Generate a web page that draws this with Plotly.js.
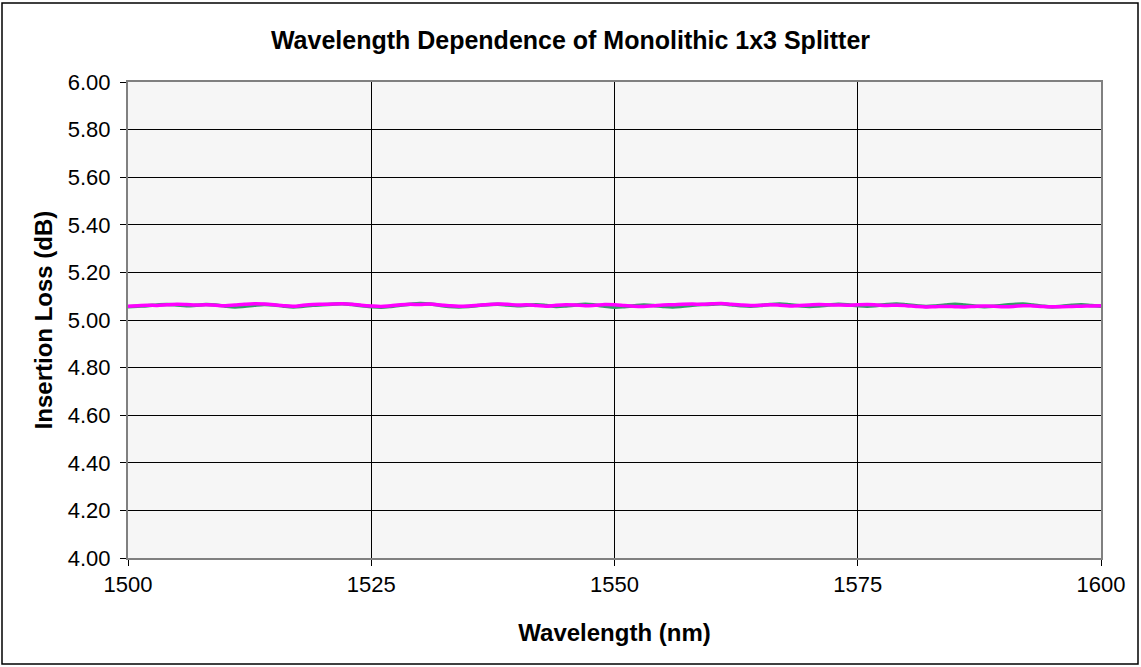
<!DOCTYPE html>
<html>
<head>
<meta charset="utf-8">
<script src="https://cdn.plot.ly/plotly-3.0.1.min.js"></script>
<style>
html,body{margin:0;padding:0;background:#fff;}
#chart{width:1141px;height:667px;}
</style>
</head>
<body>
<div id="chart"></div>
<script>
var wavelengths = [];
for (var w = 1500; w <= 1600; w++) wavelengths.push(w);

var seriesGreen = [
5.056, 5.058, 5.060, 5.063, 5.065, 5.063, 5.060, 5.062, 5.065, 5.063,
5.058, 5.055, 5.058, 5.062, 5.065, 5.063, 5.058, 5.055, 5.058, 5.062,
5.064, 5.066, 5.068, 5.065, 5.060, 5.056, 5.054, 5.057, 5.062, 5.066,
5.069, 5.067, 5.062, 5.057, 5.055, 5.057, 5.061, 5.064, 5.066, 5.063,
5.060, 5.062, 5.064, 5.061, 5.057, 5.059, 5.063, 5.066, 5.063, 5.058,
5.054, 5.056, 5.060, 5.063, 5.061, 5.057, 5.055, 5.058, 5.062, 5.065,
5.066, 5.068, 5.064, 5.060, 5.058, 5.061, 5.065, 5.067, 5.064, 5.060,
5.057, 5.059, 5.063, 5.066, 5.064, 5.060, 5.058, 5.061, 5.065, 5.067,
5.064, 5.060, 5.057, 5.059, 5.063, 5.066, 5.063, 5.059, 5.056, 5.058,
5.062, 5.065, 5.067, 5.063, 5.058, 5.055, 5.058, 5.062, 5.064, 5.061, 5.058
];

var seriesMagenta = [
5.058, 5.060, 5.062, 5.061, 5.064, 5.066, 5.065, 5.063, 5.064, 5.062,
5.060, 5.063, 5.066, 5.068, 5.067, 5.064, 5.060, 5.058, 5.062, 5.065,
5.066, 5.067, 5.068, 5.066, 5.062, 5.059, 5.057, 5.060, 5.064, 5.066,
5.065, 5.067, 5.063, 5.060, 5.058, 5.059, 5.062, 5.065, 5.067, 5.066,
5.063, 5.064, 5.061, 5.058, 5.062, 5.064, 5.063, 5.060, 5.062, 5.065,
5.064, 5.061, 5.058, 5.057, 5.060, 5.063, 5.064, 5.066, 5.067, 5.066,
5.068, 5.069, 5.066, 5.063, 5.061, 5.062, 5.064, 5.062, 5.059, 5.061,
5.063, 5.065, 5.064, 5.063, 5.062, 5.064, 5.065, 5.063, 5.061, 5.062,
5.060, 5.057, 5.055, 5.056, 5.057, 5.056, 5.055, 5.057, 5.059, 5.058,
5.056, 5.057, 5.060, 5.059, 5.057, 5.056, 5.056, 5.057, 5.058, 5.059, 5.060
];

var titleText = "Wavelength Dependence of Monolithic 1x3 Splitter";
var xTitle = "Wavelength (nm)";
var yTitle = "Insertion Loss (dB)";

var font = "Liberation Sans, Arial, sans-serif";

var traces = [
  {x: wavelengths, y: seriesGreen, type: "scatter", mode: "lines",
   line: {color: "#339966", width: 3.5, shape: "spline"}, hoverinfo: "skip"},
  {x: wavelengths, y: seriesMagenta, type: "scatter", mode: "lines",
   line: {color: "#ff00ff", width: 3.5, shape: "spline"}, hoverinfo: "skip"}
];

var pw = 973, ph = 476, ml = 128, mt = 82;
var layout = {
  width: 1141, height: 667,
  margin: {l: ml, r: 1141 - ml - pw, t: mt, b: 667 - mt - ph},
  paper_bgcolor: "#ffffff",
  plot_bgcolor: "#f6f6f6",
  showlegend: false,
  font: {family: font, color: "#000", size: 22},
  title: {text: "<b>" + titleText + "</b>", x: 0.5, xref: "container", xanchor: "center",
          y: 1 - 40 / 667, yanchor: "middle",
          font: {family: font, size: 25, color: "#000"}},
  xaxis: {
    range: [1500, 1600], tickmode: "linear", tick0: 1500, dtick: 25,
    showgrid: true, gridcolor: "#000", gridwidth: 1,
    showline: true, linecolor: "#808080", linewidth: 2, mirror: true,
    ticks: "outside", ticklen: 6, tickcolor: "#000",
    zeroline: false,
    tickfont: {family: font, size: 22},
    title: {text: "<b>" + xTitle + "</b>", font: {family: font, size: 24}, standoff: 28}
  },
  yaxis: {
    range: [4, 6], tickmode: "linear", tick0: 4, dtick: 0.2, tickformat: ".2f",
    showgrid: true, gridcolor: "#000", gridwidth: 1,
    showline: true, linecolor: "#808080", linewidth: 2, mirror: true,
    ticks: "outside", ticklen: 6, tickcolor: "#000",
    ticklabelstandoff: 5,
    zeroline: false,
    tickfont: {family: font, size: 22},
    title: {text: "<b>" + yTitle + "</b>", font: {family: font, size: 24}, standoff: 8}
  },
  shapes: [{
    type: "rect", xref: "paper", yref: "paper",
    x0: (2 - ml) / pw, x1: (1138 - ml) / pw,
    y0: -(664 - mt - ph) / ph, y1: 1 + (mt - 3) / ph,
    line: {color: "#000", width: 1.5}, fillcolor: "rgba(0,0,0,0)", layer: "below"
  }]
};

Plotly.newPlot("chart", traces, layout, {displayModeBar: false, staticPlot: true});
</script>
</body>
</html>
